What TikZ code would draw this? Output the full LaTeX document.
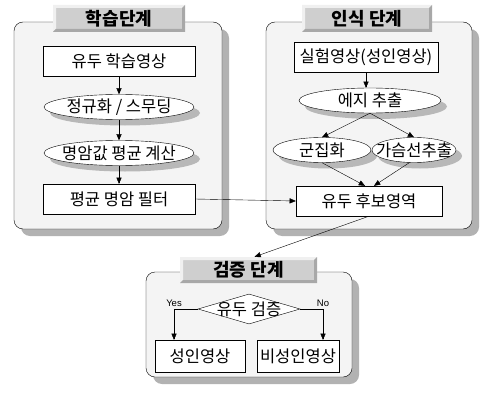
\documentclass[tikz,border=0pt]{standalone}
\usepackage{fontspec}
\setmainfont{Noto Sans CJK KR}
\newfontfamily\yesnofont{Liberation Sans}
\usetikzlibrary{shapes.geometric, positioning, arrows, shadows}
\tikzset{
>=triangle 45, % small filled arrow heads
node distance=46pt, % spacing of the nodes in the left column
stage/.style={draw, rounded corners=9pt, fill=gray!9,
  drop shadow={shadow xshift=7pt, shadow yshift=-7pt, opacity=1, fill=black!30}}, % the three big panels
stagetitle/.style={fill=gray!38, minimum height=27pt, inner sep=0pt,
  font=\fontsize{18}{20}\selectfont\bfseries,
  path picture={
    \def\pbb{path picture bounding box}
    \fill[gray!12] (\pbb.north west) -- (\pbb.north east) -- ([shift={(-3pt,-3pt)}]\pbb.north east)
      -- ([shift={(3pt,-3pt)}]\pbb.north west) -- ([shift={(3pt,3pt)}]\pbb.south west) -- (\pbb.south west) -- cycle;
    \fill[gray!68] (\pbb.south east) -- (\pbb.south west) -- ([shift={(3pt,3pt)}]\pbb.south west)
      -- ([shift={(-3pt,3pt)}]\pbb.south east) -- ([shift={(-3pt,-3pt)}]\pbb.north east) -- (\pbb.north east) -- cycle;
  }}, % bevelled title bars
stepbox/.style={draw, fill=white, minimum height=30pt, inner sep=0pt,
  font=\fontsize{16.5}{18}\selectfont}, % rectangular steps
fixedtext/.style={execute at begin node={\hbox to 0pt\bgroup\hss},
  execute at end node={\hss\egroup}}, % keeps the shape at its minimum size
oval/.style={ellipse, draw, fill=white, minimum height=25pt, inner sep=0pt, fixedtext,
  font=\fontsize{16.5}{18}\selectfont,
  drop shadow={shadow xshift=6pt, shadow yshift=-6pt, opacity=1, fill=black!28}}, % processing steps
check/.style={diamond, draw, fill=white, minimum width=102pt, minimum height=30pt,
  inner sep=0pt, fixedtext, font=\fontsize{16.5}{18}\selectfont}, % decision
yesno/.style={font=\yesnofont\fontsize{9.5}{11}\selectfont, inner sep=2pt}, % branch labels
}

\begin{document}
\begin{tikzpicture}[x=1pt, y=-1pt]
  \useasboundingbox (0,0) rectangle (481,393);

  % panels
  \node[stage, minimum width=208pt, minimum height=207pt] (learn) at (118,125.5) {};
  \node[stage, minimum width=206pt, minimum height=207pt] (detect) at (369,125.5) {};
  \node[stage, minimum width=206pt, minimum height=105pt] (verify) at (249,324.5) {};

  \node[stagetitle, minimum width=132pt] (learntitle) at (119,18.5) {학습단계};
  \node[stagetitle, minimum width=130pt] (detecttitle) at (367,18.5) {인식 단계};
  \node[stagetitle, minimum width=137pt, minimum height=26pt] (verifytitle) at (248.5,270) {검증 단계};

  % learning
  \node[stepbox, minimum width=152pt] (img) at (119,61) {유두 학습영상};
  \node[oval, minimum width=150pt, below of=img] (norm) {정규화 / 스무딩};
  \node[oval, minimum width=150pt, below of=norm] (mean) {명암값 평균 계산};
  \node[stepbox, minimum width=152pt, below of=mean] (filt) {평균 명암 필터};

  % detection
  \node[stepbox, minimum width=144pt] (src) at (366,57) {실험영상(성인영상)};
  \node[oval, minimum width=142pt] (edge) at (370,100.5) {에지 추출};
  \node[oval, minimum width=98pt, minimum height=25pt] (clu) at (322,150) {군집화};
  \node[oval, minimum width=84pt, minimum height=25pt] (chest) at (414,150) {가슴선추출};
  \node[stepbox, minimum width=146pt] (cand) at (369,201) {유두 후보영역};

  % verification
  \node[check] (chk) at (249,309) {유두 검증};
  \node[stepbox, minimum width=90pt, minimum height=32pt] (adult) at (200,356) {성인영상};
  \node[stepbox, minimum width=82pt, minimum height=32pt] (nonadult) at (298,356) {비성인영상};

  \draw[->] (img) -- (norm);
  \draw[->] (norm) -- (mean);
  \draw[->] (mean) -- (filt);
  \draw[->] (src.south) -- (src.south |- edge.north);
  \draw[->] (edge.south) -- (clu.north);
  \draw[->] (edge.south) -- (chest.north);
  \draw[->] (clu.south) -- ([xshift=-4pt]cand.north);
  \draw[->] (chest.250) -- ([xshift=5pt]cand.north);
  \draw[->] (filt.east) -- (cand.west);
  \draw[->] (cand.south) -- ([xshift=6pt]verifytitle.north);
  \draw[->] (chk.west) -| node[yesno, above, pos=0.5] {Yes} ([xshift=-26pt]adult.north);
  \draw[->] (chk.east) -| node[yesno, above, pos=0.5] {No} ([xshift=25pt]nonadult.north);
\end{tikzpicture}
\end{document}
